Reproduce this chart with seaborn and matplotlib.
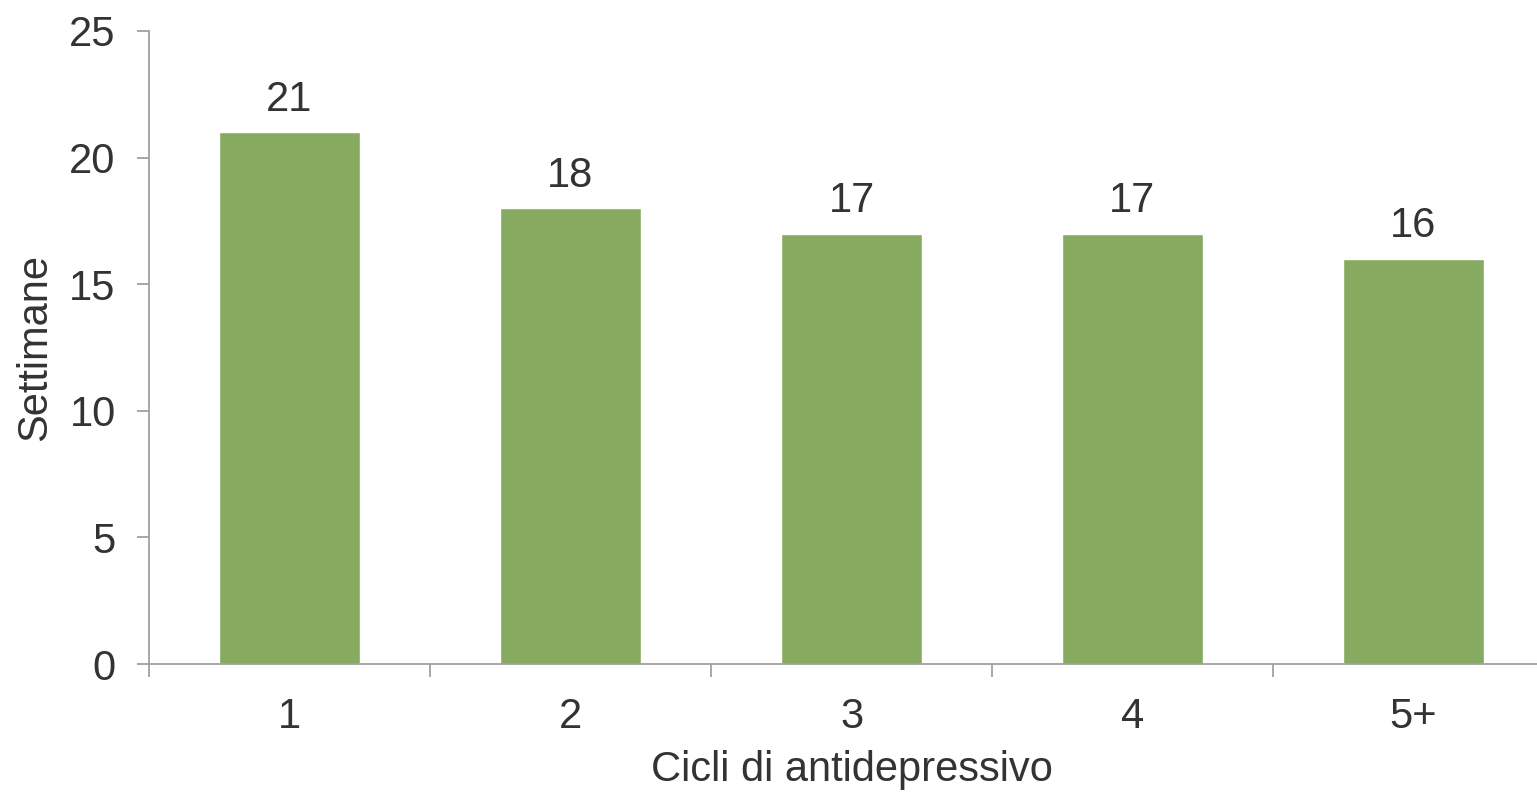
import matplotlib.pyplot as plt
import numpy as np
import pandas as pd
import seaborn as sns

sns.set_theme(style="white")
plt.rcParams["font.family"] = ["Liberation Sans", "DejaVu Sans"]

cicli = ["1", "2", "3", "4", "5+"]
settimane = [21, 18, 17, 17, 16]

df = pd.DataFrame({"cicli": cicli, "settimane": settimane})

text_color = "#333333"
spine_color = "#a0a0a0"
fs = 30

fig = plt.figure(figsize=(15.37, 7.93), dpi=100)
ax = fig.add_axes([149 / 1537, 1 - 664 / 793, 1405 / 1537, 633 / 793])

sns.barplot(data=df, x="cicli", y="settimane", color="#86aa60", saturation=1,
            width=0.5, ax=ax)

for i, v in enumerate(settimane):
    ax.annotate(str(v), (i, v), xytext=(0, 9), textcoords="offset points",
                ha="center", va="bottom", fontsize=fs, color=text_color)

ax.set_xlim(-0.5, 4.5)
ax.set_ylim(0, 25)
ax.set_yticks(np.arange(0, 26, 5))
ax.set_xticks(np.arange(-0.5, 5, 1), minor=True)

ax.tick_params(axis="both", which="major", labelsize=fs, labelcolor=text_color)
ax.tick_params(axis="y", which="major", left=True, length=9, color=spine_color,
               width=1.3, pad=15)
ax.tick_params(axis="x", which="major", bottom=False, length=0, pad=24)
ax.tick_params(axis="x", which="minor", bottom=True, length=9, color=spine_color,
               width=1.3)

for side in ["top", "right"]:
    ax.spines[side].set_visible(False)
for side in ["left", "bottom"]:
    ax.spines[side].set_color(spine_color)
    ax.spines[side].set_linewidth(1.3)

ax.set_xlabel("Cicli di antidepressivo", fontsize=fs, color=text_color, labelpad=9)
ax.set_ylabel("Settimane", fontsize=fs, color=text_color, labelpad=10)

fig.savefig("out.png", dpi=100)
plt.close(fig)
